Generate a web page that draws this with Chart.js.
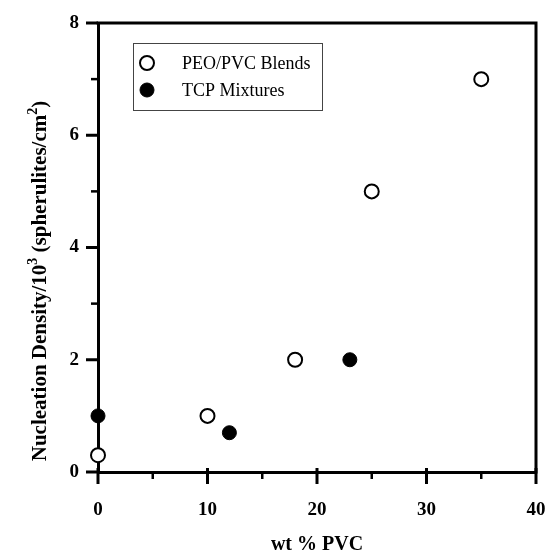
<!DOCTYPE html>
<html>
<head>
<meta charset="utf-8">
<script src="https://cdn.jsdelivr.net/npm/chart.js@4.4.1/dist/chart.umd.min.js"></script>
<style>
    html, body { margin: 0; padding: 0; background: #fff; }
    #wrap { position: relative; width: 548px; height: 554px; }
</style>
</head>
<body>
<div id="wrap"><canvas id="grafico"></canvas></div>
<script>
// PEO/PVC blends (open circles) and TCP mixtures (filled circles)
const blendPVC = [0, 10, 18, 25, 35];
const blendDensity = [0.3, 1.0, 2.0, 5.0, 7.0];
const tcpPVC = [0, 12, 23];
const tcpDensity = [1.0, 0.7, 2.0];

const xMajor = [0, 10, 20, 30, 40];
const xMinor = [5, 15, 25, 35];
const yMajor = [0, 2, 4, 6, 8];
const yMinor = [1, 3, 5, 7];

const serif = "'Liberation Serif', 'Times New Roman', serif";

function pares(xs, ys) {
    return xs.map((x, i) => ({ x: x, y: ys[i] }));
}

// frame on top/right, tick marks, axis titles and the boxed legend
const molduraPlugin = {
    id: 'moldura',
    beforeDatasetsDraw(chart) {
        const ctx = chart.ctx;
        const a = chart.chartArea;
        const sx = chart.scales.x, sy = chart.scales.y;
        ctx.save();
        ctx.strokeStyle = '#000';
        ctx.lineCap = 'butt';

        ctx.lineWidth = 3;
        ctx.beginPath();
        ctx.moveTo(a.left - 1.5, a.top);
        ctx.lineTo(a.right, a.top);
        ctx.lineTo(a.right, a.bottom + 1.5);
        ctx.stroke();

        xMajor.forEach(v => {
            const px = sx.getPixelForValue(v);
            ctx.beginPath();
            ctx.moveTo(px, a.bottom - 4);
            ctx.lineTo(px, a.bottom + 12);
            ctx.stroke();
        });
        yMajor.forEach(v => {
            const py = sy.getPixelForValue(v);
            ctx.beginPath();
            ctx.moveTo(a.left - 12, py);
            ctx.lineTo(a.left, py);
            ctx.stroke();
        });
        ctx.lineWidth = 2.5;
        xMinor.forEach(v => {
            const px = sx.getPixelForValue(v);
            ctx.beginPath();
            ctx.moveTo(px, a.bottom);
            ctx.lineTo(px, a.bottom + 7);
            ctx.stroke();
        });
        yMinor.forEach(v => {
            const py = sy.getPixelForValue(v);
            ctx.beginPath();
            ctx.moveTo(a.left - 7, py);
            ctx.lineTo(a.left, py);
            ctx.stroke();
        });
        ctx.restore();
    },
    afterDraw(chart) {
        const ctx = chart.ctx;
        const a = chart.chartArea;
        ctx.save();
        ctx.fillStyle = '#000';

        // x title
        ctx.font = 'bold 20px ' + serif;
        ctx.textAlign = 'center';
        ctx.textBaseline = 'middle';
        ctx.fillText('wt % PVC', (a.left + a.right) / 2, 545);

        // y title, rotated, with superscripts
        const partes = [
            { t: 'Nucleation Density/10', sup: false },
            { t: '3', sup: true },
            { t: ' (spherulites/cm', sup: false },
            { t: '2', sup: true },
            { t: ')', sup: false }
        ];
        const fonteN = 'bold 21px ' + serif;
        const fonteS = 'bold 14px ' + serif;
        let total = 0;
        partes.forEach(p => {
            ctx.font = p.sup ? fonteS : fonteN;
            p.w = ctx.measureText(p.t).width;
            total += p.w;
        });
        ctx.translate(40, 281);
        ctx.rotate(-Math.PI / 2);
        ctx.textAlign = 'left';
        ctx.textBaseline = 'alphabetic';
        let cx = -total / 2;
        partes.forEach(p => {
            ctx.font = p.sup ? fonteS : fonteN;
            ctx.fillText(p.t, cx, p.sup ? -3 : 6);
            cx += p.w;
        });
        ctx.restore();

        // legend box
        ctx.save();
        ctx.strokeStyle = '#444';
        ctx.lineWidth = 1;
        ctx.strokeRect(133.5, 43.5, 189, 67);
        ctx.font = '18px ' + serif;
        ctx.textAlign = 'left';
        ctx.textBaseline = 'middle';
        chart.data.datasets.forEach((ds, i) => {
            const ly = 63 + i * 27;
            ctx.beginPath();
            ctx.arc(147, ly, 7, 0, Math.PI * 2);
            ctx.fillStyle = ds.backgroundColor;
            ctx.fill();
            ctx.lineWidth = ds.borderWidth;
            ctx.strokeStyle = ds.borderColor;
            ctx.stroke();
            ctx.fillStyle = '#000';
            ctx.fillText(ds.label, 182, ly + 1);
        });
        ctx.restore();
    }
};

const fonteTick = { family: serif, size: 19, weight: 'bold' };

new Chart(document.getElementById('grafico'), {
    type: 'scatter',
    data: {
        datasets: [
            {
                label: 'PEO/PVC Blends',
                data: pares(blendPVC, blendDensity),
                backgroundColor: '#fff',
                borderColor: '#000',
                borderWidth: 2,
                pointRadius: 7,
                clip: false
            },
            {
                label: 'TCP Mixtures',
                data: pares(tcpPVC, tcpDensity),
                backgroundColor: '#000',
                borderColor: '#000',
                borderWidth: 1,
                pointRadius: 7,
                clip: false
            }
        ]
    },
    options: {
        responsive: true,
        maintainAspectRatio: false,
        animation: false,
        layout: { padding: { top: 23, right: 12, left: 0, bottom: 0 } },
        plugins: {
            legend: { display: false },
            tooltip: { enabled: false }
        },
        scales: {
            x: {
                type: 'linear',
                min: 0,
                max: 40,
                grid: { drawOnChartArea: false, drawTicks: false },
                border: { display: true, color: '#000', width: 3 },
                ticks: { stepSize: 10, color: '#000', font: fonteTick, padding: 27, maxRotation: 0 },
                afterFit(scale) {
                    scale.height = 82;
                    scale.paddingLeft = 0;
                    scale.paddingRight = 0;
                }
            },
            y: {
                type: 'linear',
                min: 0,
                max: 8,
                grid: { drawOnChartArea: false, drawTicks: false },
                border: { display: true, color: '#000', width: 3 },
                ticks: { stepSize: 2, color: '#000', font: fonteTick, padding: 19 },
                afterFit(scale) {
                    scale.width = 98;
                    scale.paddingTop = 0;
                    scale.paddingBottom = 0;
                }
            }
        }
    },
    plugins: [molduraPlugin]
});
</script>
</body>
</html>
